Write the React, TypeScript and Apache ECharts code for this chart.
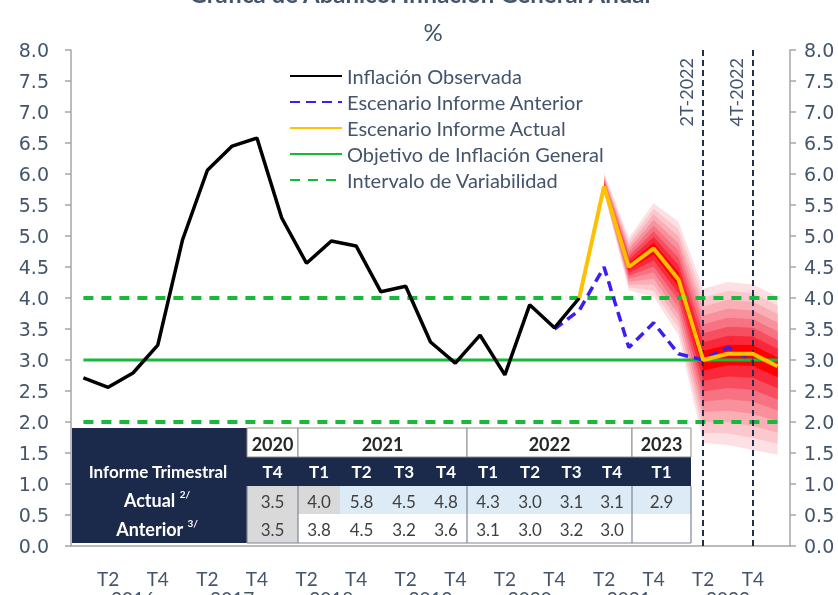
import React, { useEffect, useRef } from 'react';
import * as echarts from 'echarts';

// ---------------- DATA ----------------
const categories = [
  '2016T1', '2016T2', '2016T3', '2016T4',
  '2017T1', '2017T2', '2017T3', '2017T4',
  '2018T1', '2018T2', '2018T3', '2018T4',
  '2019T1', '2019T2', '2019T3', '2019T4',
  '2020T1', '2020T2', '2020T3', '2020T4',
  '2021T1', '2021T2', '2021T3', '2021T4',
  '2022T1', '2022T2', '2022T3', '2022T4',
  '2023T1',
];

const observada = [
  2.71, 2.56, 2.79, 3.24, 4.94, 6.06, 6.45, 6.58, 5.29, 4.56, 4.92, 4.84,
  4.10, 4.19, 3.29, 2.95, 3.40, 2.76, 3.89, 3.52, 4.0,
  null, null, null, null, null, null, null, null,
];

const anterior = [
  null, null, null, null, null, null, null, null, null, null, null, null,
  null, null, null, null, null, null, null, 3.5,
  3.8, 4.5, 3.2, 3.6, 3.1, 3.0, 3.2, 3.0, null,
];

const actual = [
  null, null, null, null, null, null, null, null, null, null, null, null,
  null, null, null, null, null, null, null, null,
  4.0, 5.8, 4.5, 4.8, 4.3, 3.0, 3.1, 3.1, 2.9,
];

// outer edges of the fan
const fanUpper = [
  null, null, null, null, null, null, null, null, null, null, null, null,
  null, null, null, null, null, null, null, null, null,
  6.02, 4.97, 5.53, 5.23, 4.15, 4.26, 4.22, 4.02,
];
const fanLower = [
  null, null, null, null, null, null, null, null, null, null, null, null,
  null, null, null, null, null, null, null, null, null,
  5.70, 4.12, 4.02, 3.40, 1.66, 1.63, 1.55, 1.47,
];

const objetivo = [
  3.0, 3.0, 3.0, 3.0, 3.0, 3.0, 3.0, 3.0, 3.0, 3.0, 3.0, 3.0, 3.0, 3.0, 3.0,
  3.0, 3.0, 3.0, 3.0, 3.0, 3.0, 3.0, 3.0, 3.0, 3.0, 3.0, 3.0, 3.0, 3.0,
];
const intervaloSup = [
  4.0, 4.0, 4.0, 4.0, 4.0, 4.0, 4.0, 4.0, 4.0, 4.0, 4.0, 4.0, 4.0, 4.0, 4.0,
  4.0, 4.0, 4.0, 4.0, 4.0, 4.0, 4.0, 4.0, 4.0, 4.0, 4.0, 4.0, 4.0, 4.0,
];
const intervaloInf = [
  2.0, 2.0, 2.0, 2.0, 2.0, 2.0, 2.0, 2.0, 2.0, 2.0, 2.0, 2.0, 2.0, 2.0, 2.0,
  2.0, 2.0, 2.0, 2.0, 2.0, 2.0, 2.0, 2.0, 2.0, 2.0, 2.0, 2.0, 2.0, 2.0,
];

const markQuarters = ['2022T2', '2022T4'];
const markLabels = ['2T-2022', '4T-2022'];

// table
const tableYears = ['2020', '2021', '2022', '2023'];
const tableYearSpans = [1, 4, 4, 1];
const tableQuarters = ['T4', 'T1', 'T2', 'T3', 'T4', 'T1', 'T2', 'T3', 'T4', 'T1'];
const tableActual = ['3.5', '4.0', '5.8', '4.5', '4.8', '4.3', '3.0', '3.1', '3.1', '2.9'];
const tableAnterior = ['3.5', '3.8', '4.5', '3.2', '3.6', '3.1', '3.0', '3.2', '3.0', ''];
const tableActualObserved = [true, true, false, false, false, false, false, false, false, false];
const tableAnteriorObserved = [true, false, false, false, false, false, false, false, false, false];

const legendNames = [
  'Inflación Observada',
  'Escenario Informe Anterior',
  'Escenario Informe Actual',
  'Objetivo de Inflación General',
  'Intervalo de Variabilidad',
];

// ---------------- STYLE ----------------
const TEXT = '#44546a';
const NAVY = '#1b2a4a';
const FONT = 'Lato, "Open Sans", sans-serif';
const fanLevels = [1, 0.875, 0.75, 0.625, 0.5, 0.375, 0.25, 0.125];
const fanColors = ['#fde0e4', '#fbc8ce', '#faaeb6', '#f8919c', '#f77282', '#f74e60', '#fa283b', '#ff0000'];

// table layout
const colEdges = [247, 298, 340, 383, 425, 467, 509, 551, 592, 632, 691];
const rowEdges = [428, 457, 486, 514, 543];
const tableLeft = 72;

function buildTable() {
  const els: any[] = [];
  const right = colEdges[colEdges.length - 1];
  els.push({ type: 'rect', shape: { x: tableLeft, y: rowEdges[0], width: right - tableLeft, height: rowEdges[4] - rowEdges[0] }, style: { fill: NAVY } });
  // year row
  let c = 0;
  tableYears.forEach((y, k) => {
    const x0 = colEdges[c];
    const x1 = colEdges[c + tableYearSpans[k]];
    c += tableYearSpans[k];
    els.push({ type: 'rect', shape: { x: x0, y: rowEdges[0], width: x1 - x0, height: rowEdges[1] - rowEdges[0] }, style: { fill: '#ffffff', stroke: '#8c8c8c', lineWidth: 1 } });
    els.push({ type: 'text', x: (x0 + x1) / 2, y: (rowEdges[0] + rowEdges[1]) / 2 + 1, style: { text: y, fill: '#262626', font: `bold 18px ${FONT}`, align: 'center', verticalAlign: 'middle' } });
  });
  // header row
  els.push({ type: 'text', x: 158, y: (rowEdges[1] + rowEdges[2]) / 2, style: { text: 'Informe Trimestral', fill: '#ffffff', font: `bold 17px ${FONT}`, align: 'center', verticalAlign: 'middle' } });
  tableQuarters.forEach((q, i) => {
    els.push({ type: 'text', x: (colEdges[i] + colEdges[i + 1]) / 2, y: (rowEdges[1] + rowEdges[2]) / 2, style: { text: q, fill: '#ffffff', font: `bold 17px ${FONT}`, align: 'center', verticalAlign: 'middle' } });
  });
  // data rows
  const rows = [
    { vals: tableActual, obs: tableActualObserved, fill: '#ddebf7', r: 2 },
    { vals: tableAnterior, obs: tableAnteriorObserved, fill: '#ffffff', r: 3 },
  ];
  rows.forEach((row) => {
    const y0 = rowEdges[row.r];
    const y1 = rowEdges[row.r + 1];
    els.push({ type: 'rect', shape: { x: colEdges[0], y: y0, width: right - colEdges[0], height: y1 - y0 }, style: { fill: row.fill } });
    row.vals.forEach((v, i) => {
      if (row.obs[i]) {
        els.push({ type: 'rect', shape: { x: colEdges[i], y: y0, width: colEdges[i + 1] - colEdges[i], height: y1 - y0 }, style: { fill: '#d9d9d9' } });
      }
      els.push({ type: 'text', x: (colEdges[i] + colEdges[i + 1]) / 2, y: (y0 + y1) / 2 + 1, style: { text: v, fill: '#404040', font: `17px ${FONT}`, align: 'center', verticalAlign: 'middle' } });
    });
  });
  // group separators
  const groupEdges = [colEdges[0], colEdges[1], colEdges[5], colEdges[9], right];
  groupEdges.forEach((x) => {
    els.push({ type: 'line', shape: { x1: x, y1: rowEdges[2], x2: x, y2: rowEdges[4] }, style: { stroke: '#7f8795', lineWidth: 1.2 } });
  });
  els.push({ type: 'line', shape: { x1: colEdges[0], y1: rowEdges[4], x2: right, y2: rowEdges[4] }, style: { stroke: '#7f8795', lineWidth: 1.2 } });
  // row labels
  const labelRich = {
    a: { fontSize: 18, fontWeight: 'bold', fontFamily: FONT, fill: '#ffffff', color: '#ffffff', lineHeight: 22 },
    s: { fontSize: 10, fontWeight: 'bold', fontFamily: FONT, fill: '#ffffff', color: '#ffffff', lineHeight: 10, verticalAlign: 'top' },
  };
  els.push({ type: 'text', x: 157, y: (rowEdges[2] + rowEdges[3]) / 2, style: { text: '{a|Actual }{s|2/}', rich: labelRich, align: 'center', verticalAlign: 'middle' } });
  els.push({ type: 'text', x: 157, y: (rowEdges[3] + rowEdges[4]) / 2, style: { text: '{a|Anterior }{s|3/}', rich: labelRich, align: 'center', verticalAlign: 'middle' } });
  return { type: 'group', z: 100, children: els };
}

export default function App() {
  const ref = useRef<HTMLDivElement>(null);
  useEffect(() => {
    if (!ref.current) return;
    const chart = echarts.init(ref.current, undefined, { renderer: 'svg' });

    const fanSeries: any[] = [];
    fanLevels.forEach((f, k) => {
      const lo = actual.map((c, i) => (c == null || fanLower[i] == null ? null : c - f * (c - (fanLower[i] as number))));
      const hi = actual.map((c, i) => (c == null || fanUpper[i] == null ? null : c + f * ((fanUpper[i] as number) - c)));
      fanSeries.push({
        type: 'line', stack: 'fan' + k, data: lo, symbol: 'none', silent: true, z: 1,
        lineStyle: { opacity: 0 },
      });
      fanSeries.push({
        type: 'line', stack: 'fan' + k, data: hi.map((h, i) => (h == null || lo[i] == null ? null : h - (lo[i] as number))),
        symbol: 'none', silent: true, z: 1,
        lineStyle: { opacity: 0 }, areaStyle: { color: fanColors[k], opacity: 1 },
      });
    });

    const yAxisCommon = {
      type: 'value', min: 0, max: 8, interval: 0.5,
      splitLine: { show: false },
      axisLine: { show: true, lineStyle: { color: '#a6a6a6', width: 1.5 } },
      axisTick: { show: true, length: 6, lineStyle: { color: '#a6a6a6', width: 1.5 } },
    };

    const option: any = {
      animation: false,
      grid: { left: 71, right: 48, top: 50, bottom: 49, outerBoundsMode: 'none', containLabel: false },
      legend: {
        data: legendNames,
        orient: 'vertical',
        left: 289,
        top: 66,
        padding: 0,
        itemWidth: 52,
        itemHeight: 14,
        itemGap: 6,
        itemStyle: { opacity: 0 },
        textStyle: { color: TEXT, fontSize: 20, fontFamily: FONT, lineHeight: 20 },
        selectedMode: false,
      },
      xAxis: {
        type: 'category',
        data: categories,
        boundaryGap: true,
        axisLine: { show: true, lineStyle: { color: '#a6a6a6', width: 1.5 } },
        axisTick: { show: false },
        axisLabel: {
          interval: 0,
          margin: 22,
          color: TEXT,
          fontSize: 19,
          fontFamily: FONT,
          lineHeight: 20,
          formatter: (v: string) => {
            const q = v.slice(4);
            if (q === 'T2' || q === 'T4') return q;
            if (q === 'T3') return '\n' + v.slice(0, 4);
            return '';
          },
        },
      },
      yAxis: [
        {
          ...yAxisCommon, position: 'left',
          axisLabel: { margin: 22, color: TEXT, fontSize: 19, fontFamily: '"DejaVu Sans", sans-serif', formatter: (v: number) => v.toFixed(1) },
        },
        {
          ...yAxisCommon, position: 'right',
          axisLabel: { margin: 14, color: TEXT, fontSize: 19, fontFamily: '"DejaVu Sans", sans-serif', formatter: (v: number) => v.toFixed(1) },
        },
      ],
      graphic: [
        { type: 'text', x: 420, y: -7, z: 50, style: { text: 'Gráfica de Abanico: Inflación General Anual', fill: TEXT, font: `bold 24px ${FONT}`, align: 'center', verticalAlign: 'middle' } },
        { type: 'text', x: 433, y: 31, z: 50, style: { text: '%', fill: TEXT, font: `24px ${FONT}`, align: 'center', verticalAlign: 'middle' } },
        buildTable(),
      ],
      series: [
        ...fanSeries,
        {
          name: 'Intervalo de Variabilidad', type: 'line', data: intervaloSup, symbol: 'none', z: 3, silent: true,
          lineStyle: { color: '#16b93a', width: 4, type: [10, 8] }, itemStyle: { color: '#16b93a' },
        },
        {
          name: 'Intervalo de Variabilidad', type: 'line', data: intervaloInf, symbol: 'none', z: 3, silent: true,
          lineStyle: { color: '#16b93a', width: 4, type: [10, 8] }, itemStyle: { color: '#16b93a' },
        },
        {
          name: 'Objetivo de Inflación General', type: 'line', data: objetivo, symbol: 'none', z: 3, silent: true,
          lineStyle: { color: '#16b93a', width: 3 }, itemStyle: { color: '#16b93a' },
        },
        {
          name: 'Escenario Informe Anterior', type: 'line', data: anterior, symbol: 'none', z: 4, silent: true,
          lineStyle: { color: '#3a1ef5', width: 3.5, type: [10, 6] }, itemStyle: { color: '#3a1ef5' },
        },
        {
          name: 'Inflación Observada', type: 'line', data: observada, symbol: 'none', z: 5, silent: true,
          lineStyle: { color: '#000000', width: 3.5 }, itemStyle: { color: '#000000' },
        },
        {
          name: 'Escenario Informe Actual', type: 'line', data: actual, symbol: 'none', z: 6, silent: true,
          lineStyle: { color: '#ffc000', width: 4 }, itemStyle: { color: '#ffc000' },
        },
        {
          name: 'marks', type: 'line', data: [], symbol: 'none', z: 10, silent: true,
          markLine: {
            silent: true,
            symbol: ['none', 'none'],
            animation: false,
            lineStyle: { color: '#1f2f4f', width: 2, type: [6, 4] },
            label: { show: true, position: 'insideEndTop', color: TEXT, fontSize: 18, fontFamily: FONT, distance: 8 },
            data: markQuarters.map((q, i) => ({ xAxis: q, label: { formatter: markLabels[i] } })),
          },
        },
      ],
    };
    chart.setOption(option);
    return () => chart.dispose();
  }, []);
  return <div ref={ref} style={{ position: 'fixed', left: 0, top: 0, width: 838, height: 595 }} />;
}
